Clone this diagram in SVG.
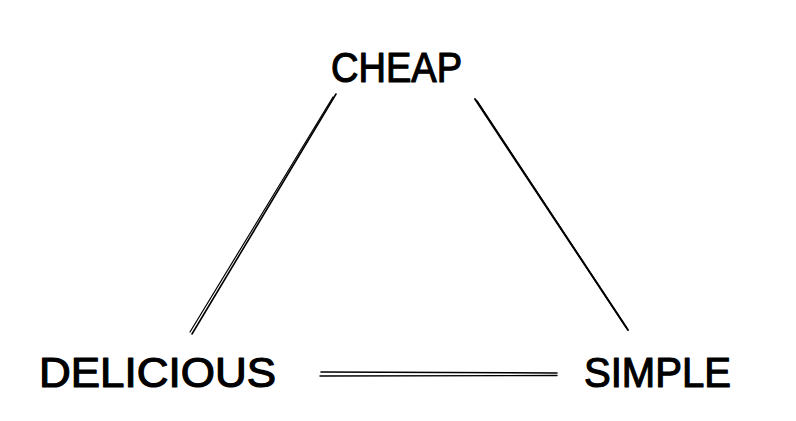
<svg xmlns="http://www.w3.org/2000/svg" width="796" height="421" viewBox="0 0 796 421">
<style>
.lbl{font-family:"Liberation Sans","DejaVu Sans",sans-serif;font-size:42px;fill:#000;stroke:#000;stroke-width:1.2px;stroke-linejoin:round;}
.ln{stroke:#000;fill:none;stroke-linecap:round;}
</style>
<rect width="796" height="421" fill="#fff"/>
<g id="connectors">
<path class="ln" stroke-width="1.6" d="M336 94 L192 334"/>
<path class="ln" stroke-width="1.2" d="M333 97 L190 332"/>
<path class="ln" stroke-width="2" d="M475 99 L628 330"/>
<path class="ln" stroke-width="1.5" d="M477 101 L626 327"/>
<path class="ln" stroke-width="1.6" d="M321 372 L557 373"/>
<path class="ln" stroke-width="1.4" d="M320 376 L557 375.5"/>
</g>
<g id="node-cheap"><text class="lbl" x="331" y="82" textLength="131" lengthAdjust="spacingAndGlyphs">CHEAP</text></g>
<g id="node-delicious"><text class="lbl" x="39" y="387" textLength="237" lengthAdjust="spacingAndGlyphs">DELICIOUS</text></g>
<g id="node-simple"><text class="lbl" x="584" y="387" textLength="147" lengthAdjust="spacingAndGlyphs">SIMPLE</text></g>
</svg>
